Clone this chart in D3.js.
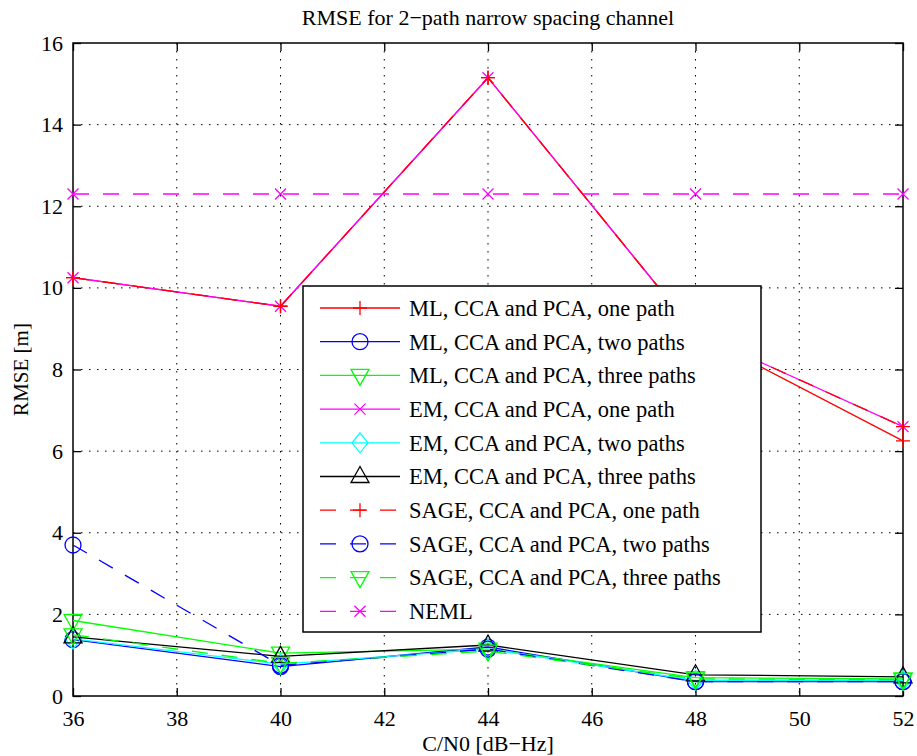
<!DOCTYPE html>
<html>
<head>
<meta charset="utf-8">
<script src="https://cdn.jsdelivr.net/npm/d3@7"></script>
<style>
  body { margin: 0; background: #fff; }
  svg text { font-family: "Liberation Serif", "Times New Roman", Times, serif !important; fill: #000; }
</style>
</head>
<body>
<div id="chart"></div>
<script>
// x values (C/N0 in dB-Hz)
var snr = [36, 40, 44, 48, 52];

// RMSE values per estimator
var mlOne     = [10.25, 9.55, 15.15, 8.9, 6.25];
var mlTwo     = [1.38, 0.72, 1.2, 0.35, 0.35];
var mlThree   = [1.85, 1.05, 1.15, 0.45, 0.42];
var emOne     = [10.25, 9.55, 15.15, 8.9, 6.6];
var emTwo     = [1.4, 0.78, 1.15, 0.38, 0.38];
var emThree   = [1.45, 0.97, 1.25, 0.52, 0.47];
var sageOne   = [10.25, 9.55, 15.15, 8.9, 6.6];
var sageTwo   = [3.7, 0.75, 1.15, 0.35, 0.35];
var sageThree = [1.5, 0.8, 1.1, 0.42, 0.4];
var neml      = [12.3, 12.3, 12.3, 12.3, 12.3];

var xTicks = [36, 38, 40, 42, 44, 46, 48, 50, 52];
var yTicks = [0, 2, 4, 6, 8, 10, 12, 14, 16];

var seriesNames = ["ML, CCA and PCA, one path", "ML, CCA and PCA, two paths", "ML, CCA and PCA, three paths",
    "EM, CCA and PCA, one path", "EM, CCA and PCA, two paths", "EM, CCA and PCA, three paths",
    "SAGE, CCA and PCA, one path", "SAGE, CCA and PCA, two paths", "SAGE, CCA and PCA, three paths", "NEML"];

var series = [
    {name: seriesNames[0], values: mlOne, color: "#ff0000", marker: "plus", dashed: false},
    {name: seriesNames[1], values: mlTwo, color: "#0000ff", marker: "circle", dashed: false},
    {name: seriesNames[2], values: mlThree, color: "#00ff00", marker: "tridown", dashed: false},
    {name: seriesNames[3], values: emOne, color: "#ff00ff", marker: "x", dashed: false},
    {name: seriesNames[4], values: emTwo, color: "#00ffff", marker: "diamond", dashed: false},
    {name: seriesNames[5], values: emThree, color: "#000000", marker: "triup", dashed: false},
    {name: seriesNames[6], values: sageOne, color: "#ff0000", marker: "plus", dashed: true},
    {name: seriesNames[7], values: sageTwo, color: "#0000ff", marker: "circle", dashed: true},
    {name: seriesNames[8], values: sageThree, color: "#00ff00", marker: "tridown", dashed: true},
    {name: seriesNames[9], values: neml, color: "#ff00ff", marker: "x", dashed: true}
];

var W = 917, H = 756;
var margin = {top: 43, right: 14, bottom: 60, left: 73},
    width = W - margin.left - margin.right,
    height = H - margin.top - margin.bottom;

var xScale = d3.scaleLinear().domain([36, 52]).range([0, width]);
var yScale = d3.scaleLinear().domain([0, 16]).range([height, 0]);

var svg = d3.select("#chart").append("svg")
    .attr("width", W)
    .attr("height", H)
    .attr("font-family", "Liberation Serif, serif");

var canvas = svg.append("g")
    .attr("transform", "translate(" + margin.left + "," + margin.top + ")");

// marker paths (outline only, like matlab)
function markerPath(type) {
    switch (type) {
        case "plus": return "M-7,0H7M0,-7V7";
        case "x": return "M-5.5,-5.5L5.5,5.5M-5.5,5.5L5.5,-5.5";
        case "circle": return "M8,0A8,8 0 1,1 -8,0A8,8 0 1,1 8,0Z";
        case "tridown": return "M-9,-6L9,-6L0,10Z";
        case "triup": return "M-9,6L9,6L0,-10Z";
        case "diamond": return "M0,-10L8,0L0,10L-8,0Z";
    }
}

// grid
canvas.append("g").selectAll("line")
    .data(xTicks.slice(1, -1))
    .enter().append("line")
    .attr("x1", function (d) { return xScale(d); })
    .attr("x2", function (d) { return xScale(d); })
    .attr("y1", 0).attr("y2", height)
    .attr("stroke", "#000").attr("stroke-width", 1)
    .attr("stroke-dasharray", "1.5,6.5");

canvas.append("g").selectAll("line")
    .data(yTicks.slice(1, -1))
    .enter().append("line")
    .attr("y1", function (d) { return yScale(d); })
    .attr("y2", function (d) { return yScale(d); })
    .attr("x1", 0).attr("x2", width)
    .attr("stroke", "#000").attr("stroke-width", 1)
    .attr("stroke-dasharray", "1.5,6.5");

// axes, ticks inward
var xAxis = d3.axisBottom(xScale).tickValues(xTicks).tickSize(-8).tickPadding(14).tickFormat(d3.format("d"));
var yAxis = d3.axisLeft(yScale).tickValues(yTicks).tickSize(-8).tickPadding(10).tickFormat(d3.format("d"));
var xAxisTop = d3.axisTop(xScale).tickValues(xTicks).tickSize(-8).tickFormat("");
var yAxisRight = d3.axisRight(yScale).tickValues(yTicks).tickSize(-8).tickFormat("");

function styleAxis(g) {
    g.attr("font-family", null).attr("font-size", null);
    g.select(".domain").remove();
    g.selectAll("line").attr("stroke", "#000").attr("stroke-width", 1.3);
    g.selectAll("text").style("font-size", "22px");
}

canvas.append("g").attr("transform", "translate(0," + height + ")").call(xAxis).call(styleAxis);
canvas.append("g").call(yAxis).call(styleAxis);
canvas.append("g").call(xAxisTop).call(styleAxis);
canvas.append("g").attr("transform", "translate(" + width + ",0)").call(yAxisRight).call(styleAxis);

canvas.append("rect")
    .attr("width", width).attr("height", height)
    .attr("fill", "none").attr("stroke", "#000").attr("stroke-width", 1.5);

// series lines and markers
var line = d3.line()
    .x(function (d, i) { return xScale(snr[i]); })
    .y(function (d) { return yScale(d); });

series.forEach(function (s) {
    canvas.append("path")
        .datum(s.values)
        .attr("d", line)
        .attr("fill", "none")
        .attr("stroke", s.color)
        .attr("stroke-width", 1.3)
        .attr("stroke-dasharray", s.dashed ? "16,14" : null);

    canvas.append("g").selectAll("path")
        .data(s.values)
        .enter().append("path")
        .attr("transform", function (d, i) {
            return "translate(" + xScale(snr[i]) + "," + yScale(d) + ")";
        })
        .attr("d", markerPath(s.marker))
        .attr("fill", "none")
        .attr("stroke", s.color)
        .attr("stroke-width", 1.3);
});

// legend
var legX = 303 - margin.left, legY = 286 - margin.top,
    legW = 458, legH = 346, rowH = 33.7;

var legend = canvas.append("g").attr("transform", "translate(" + legX + "," + legY + ")");
legend.append("rect")
    .attr("width", legW).attr("height", legH)
    .attr("fill", "#fff").attr("stroke", "#000").attr("stroke-width", 1.5);

var rows = legend.selectAll(".row")
    .data(series)
    .enter().append("g")
    .attr("class", "row")
    .attr("transform", function (d, i) { return "translate(0," + (22 + i * rowH) + ")"; });

rows.append("line")
    .attr("x1", 17).attr("x2", 97)
    .attr("stroke", function (d) { return d.color; })
    .attr("stroke-width", 1.3)
    .attr("stroke-dasharray", function (d) { return d.dashed ? "16,14" : null; });

rows.append("path")
    .attr("transform", "translate(57,0)")
    .attr("d", function (d) { return markerPath(d.marker); })
    .attr("fill", "none")
    .attr("stroke", function (d) { return d.color; })
    .attr("stroke-width", 1.3);

rows.append("text")
    .attr("x", 106)
    .attr("dy", "0.35em")
    .style("font-size", "22.5px")
    .text(function (d) { return d.name; });

// title and axis labels
svg.append("text")
    .attr("x", margin.left + width / 2)
    .attr("y", 25)
    .attr("text-anchor", "middle")
    .style("font-size", "22px")
    .text("RMSE for 2\u2212path narrow spacing channel");

svg.append("text")
    .attr("x", margin.left + width / 2)
    .attr("y", 751)
    .attr("text-anchor", "middle")
    .style("font-size", "22px")
    .text("C/N0 [dB\u2212Hz]");

svg.append("text")
    .attr("transform", "translate(28," + (margin.top + height / 2) + ") rotate(-90)")
    .attr("text-anchor", "middle")
    .style("font-size", "21px")
    .text("RMSE [m]");
</script>
</body>
</html>
